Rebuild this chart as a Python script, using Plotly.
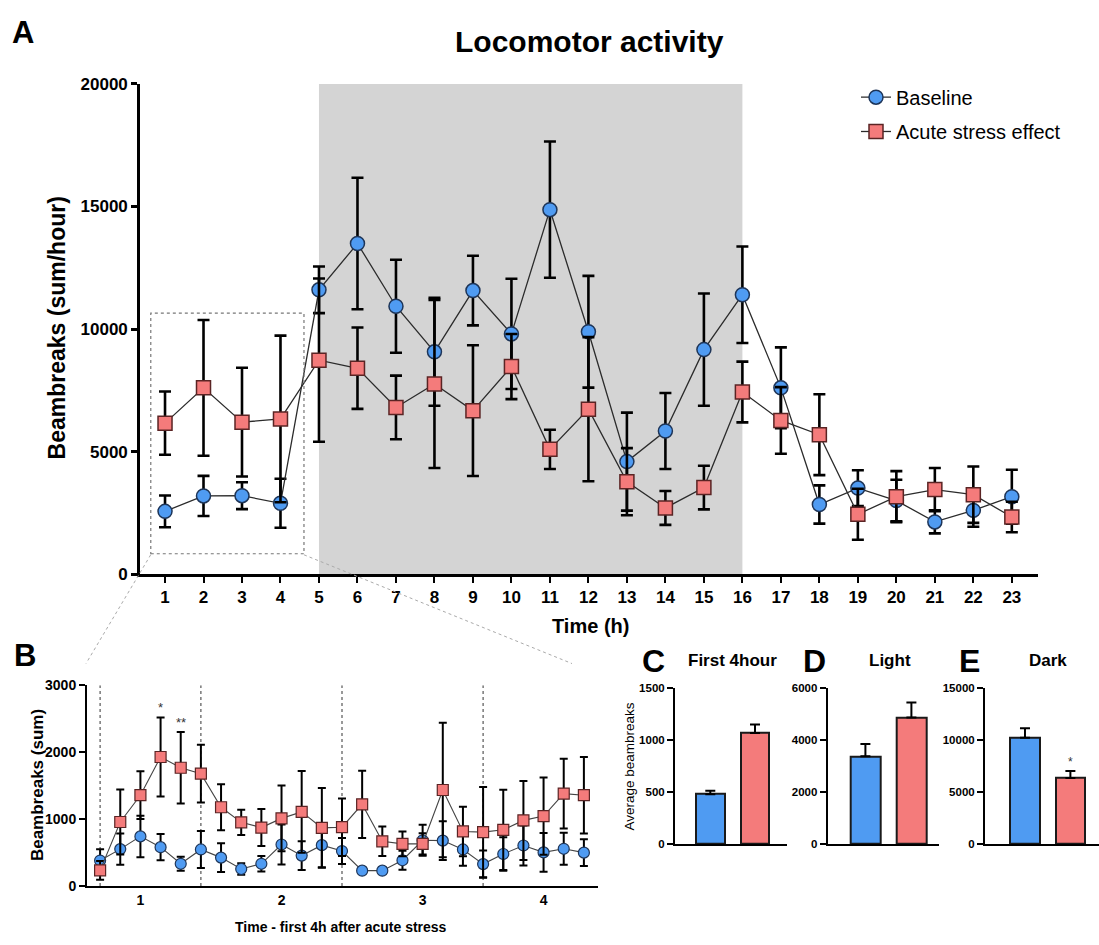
import plotly.graph_objects as go

# ---------------- data ----------------
hours = list(range(1, 24))
baseline_A = [2560, 3190, 3200, 2890, 11600, 13490, 10930, 9070, 11570, 9800, 14870, 9890,
              4590, 5840, 9160, 11400, 7600, 2840, 3510, 3000, 2130, 2600, 3160]
baseline_A_err = [650, 820, 550, 1000, 950, 2680, 1900, 2200, 1420, 2250, 2780, 2280,
                  2000, 1550, 2290, 1970, 1650, 780, 730, 850, 470, 670, 1100]
stress_A = [6160, 7600, 6200, 6330, 8730, 8400, 6800, 7760, 6670, 8470, 5090, 6730,
            3770, 2700, 3530, 7430, 6270, 5690, 2440, 3160, 3450, 3240, 2330]
stress_A_err = [1290, 2770, 2220, 3400, 3330, 1660, 1300, 3430, 2670, 1330, 800, 2940,
                1370, 690, 890, 1240, 1360, 1650, 1040, 1040, 880, 1150, 620]
dark_phase = [5, 16]
A_yticks = [0, 5000, 10000, 15000, 20000]

B_points = list(range(1, 26))
baseline_B = [380, 551, 741, 580, 332, 546, 424, 254, 332, 620, 454, 610, 522, 229, 229,
              385, 683, 678, 546, 327, 478, 605, 502, 556, 498]
baseline_B_err = [170, 235, 310, 195, 105, 276, 215, 85, 115, 300, 214, 330, 195, 50, 50,
                  141, 230, 290, 245, 205, 250, 300, 290, 240, 200]
stress_B = [234, 956, 1356, 1927, 1766, 1678, 1176, 951, 873, 1010, 1107, 868, 878, 1220,
            668, 629, 629, 1434, 815, 805, 839, 980, 1044, 1380, 1356]
stress_B_err = [140, 485, 356, 590, 535, 430, 345, 188, 276, 490, 610, 595, 430, 502, 220,
                186, 160, 1005, 370, 673, 600, 590, 576, 522, 571]
B_tickvals = [3, 10, 17, 23]
B_ticktext = ["1", "2", "3", "4"]
B_dividers = [1, 6, 13, 20]
B_yticks = [0, 1000, 2000, 3000]

bar_groups = [0, 1]  # Baseline, Acute stress effect
first4_mean = [479, 1065]
first4_err = [34, 82]
light_mean = [3368, 4861]
light_err = [478, 575]
dark_mean = [10207, 6353]
dark_err = [911, 658]

# ---------------- style ----------------
W, H = 1099, 945
FONT = "Arial, Liberation Sans, sans-serif"
BLUE = "#4F9BF2"
RED = "#F47B7B"
BLUE_EDGE = "#1E3558"
RED_EDGE = "#5A2424"


def dx(a, b):
    return [a / W, b / W]


def dy(top, bottom):
    return [1 - bottom / H, 1 - top / H]


fig = go.Figure()

# ---------------- panel A ----------------
fig.add_trace(go.Scatter(
    x=hours, y=baseline_A, mode="lines+markers", name="Baseline",
    line=dict(color="#2b2b2b", width=1.3),
    marker=dict(symbol="circle", size=14, color=BLUE, line=dict(color=BLUE_EDGE, width=1.5)),
    error_y=dict(type="data", array=baseline_A_err, color="black", thickness=2.6, width=6),
    xaxis="x", yaxis="y", legend="legend"))
fig.add_trace(go.Scatter(
    x=hours, y=stress_A, mode="lines+markers", name="Acute stress effect",
    line=dict(color="#2b2b2b", width=1.3),
    marker=dict(symbol="square", size=14, color=RED, line=dict(color=RED_EDGE, width=1.5)),
    error_y=dict(type="data", array=stress_A_err, color="black", thickness=2.6, width=6),
    xaxis="x", yaxis="y", legend="legend2"))

# ---------------- panel B ----------------
fig.add_trace(go.Scatter(
    x=B_points, y=baseline_B, mode="lines+markers", showlegend=False,
    line=dict(color="#444444", width=1.1),
    marker=dict(symbol="circle", size=11, color=BLUE, line=dict(color=BLUE_EDGE, width=1.2)),
    error_y=dict(type="data", array=baseline_B_err, color="black", thickness=2, width=4),
    xaxis="x2", yaxis="y2"))
fig.add_trace(go.Scatter(
    x=B_points, y=stress_B, mode="lines+markers", showlegend=False,
    line=dict(color="#444444", width=1.1),
    marker=dict(symbol="square", size=11, color=RED, line=dict(color=RED_EDGE, width=1.2)),
    error_y=dict(type="data", array=stress_B_err, color="black", thickness=2, width=4),
    xaxis="x2", yaxis="y2"))

# ---------------- panels C, D, E ----------------
for means, errs, xa, ya, wd in [(first4_mean, first4_err, "x3", "y3", 0.64),
                                (light_mean, light_err, "x4", "y4", 0.66),
                                (dark_mean, dark_err, "x5", "y5", 0.64)]:
    fig.add_trace(go.Bar(
        x=bar_groups, y=means, width=wd, showlegend=False,
        marker=dict(color=[BLUE, RED], line=dict(color="#1a1a1a", width=2)),
        error_y=dict(type="data", array=errs, arrayminus=[0, 0], symmetric=False,
                     color="black", thickness=2, width=5),
        xaxis=xa, yaxis=ya))

# ---------------- axes ----------------
def yax(domain, rng, tickvals, size, lw=2.5, anchor="x"):
    return dict(domain=domain, range=rng, tickvals=tickvals, tickformat="d",
                showgrid=False, zeroline=False,
                showline=True, linecolor="black", linewidth=lw, ticks="outside",
                ticklen=6, tickwidth=lw, tickcolor="black", anchor=anchor,
                tickfont=dict(family=FONT, size=size, color="black", weight="bold"))


fig.update_layout(
    width=W, height=H, margin=dict(l=0, r=0, t=0, b=0),
    plot_bgcolor="white", paper_bgcolor="white",
    bargap=0,
    xaxis=dict(domain=dx(140, 1038), range=[0.35, 23.68], tickvals=hours,
               showgrid=False, zeroline=False, showline=True, linecolor="black", linewidth=2.6,
               ticks="outside", ticklen=6, tickwidth=2.4, tickcolor="black", anchor="y",
               tickfont=dict(family=FONT, size=17, color="black", weight="bold")),
    yaxis=yax(dy(76.5, 576.7), [0, 20000], A_yticks, 17, 2.6, "x"),
    xaxis2=dict(domain=dx(87, 598), range=[0.35, 25.7], tickvals=B_tickvals, ticktext=B_ticktext,
                showgrid=False, zeroline=False, showline=True, linecolor="black", linewidth=2,
                ticks="", anchor="y2",
                tickfont=dict(family=FONT, size=14, color="black", weight="bold")),
    yaxis2=yax(dy(690, 895), [0, 3000], B_yticks, 14, 2, "x2"),
    xaxis3=dict(domain=dx(675, 786.7), range=[-0.79, 1.71], showticklabels=False, ticks="",
                showgrid=False, zeroline=False, showline=True, linecolor="black", linewidth=2,
                anchor="y3"),
    yaxis3=yax(dy(692.7, 852.3), [0, 1500], [0, 500, 1000, 1500], 11.5, 2, "x3"),
    xaxis4=dict(domain=dx(827.7, 939), range=[-0.82, 1.6], showticklabels=False, ticks="",
                showgrid=False, zeroline=False, showline=True, linecolor="black", linewidth=2,
                anchor="y4"),
    yaxis4=yax(dy(692.7, 852.3), [0, 6000], [0, 2000, 4000, 6000], 11.5, 2, "x4"),
    xaxis5=dict(domain=dx(985, 1099), range=[-0.88, 1.63], showticklabels=False, ticks="",
                showgrid=False, zeroline=False, showline=True, linecolor="black", linewidth=2,
                anchor="y5"),
    yaxis5=yax(dy(692.7, 852.3), [0, 15000], [0, 5000, 10000, 15000], 11.5, 2, "x5"),
    legend=dict(x=856 / W, xanchor="left", y=1 - 90 / H, yanchor="middle",
                bgcolor="rgba(0,0,0,0)", font=dict(family=FONT, size=20, color="black")),
    legend2=dict(x=856 / W, xanchor="left", y=1 - 125 / H, yanchor="middle",
                 bgcolor="rgba(0,0,0,0)", font=dict(family=FONT, size=20, color="black")),
)

# ---------------- shapes ----------------
shapes = [
    dict(type="rect", xref="x", yref="y", x0=dark_phase[0], x1=dark_phase[1], y0=0, y1=20000,
         fillcolor="#d4d4d4", line=dict(width=0), layer="below"),
    dict(type="rect", xref="x", yref="y", x0=0.63, x1=4.61, y0=830, y1=10650,
         line=dict(color="#777777", width=1.2, dash="dot"), fillcolor="rgba(0,0,0,0)"),
    dict(type="line", xref="paper", yref="paper", x0=150.7 / W, y0=1 - 557 / H,
         x1=86 / W, y1=1 - 668 / H, line=dict(color="#aaaaaa", width=1, dash="dot")),
    dict(type="line", xref="paper", yref="paper", x0=304 / W, y0=1 - 557 / H,
         x1=572 / W, y1=1 - 668 / H, line=dict(color="#aaaaaa", width=1, dash="dot")),
]
for xv in B_dividers:
    shapes.append(dict(type="line", xref="x2", yref="y2", x0=xv, x1=xv, y0=0, y1=3000,
                       line=dict(color="#555555", width=1.2, dash="dot"), layer="below"))
fig.update_layout(shapes=shapes)

# ---------------- text ----------------
def txt(x, y, s, size, bold=True, angle=0):
    return dict(x=x / W, y=1 - y / H, xref="paper", yref="paper", text=s, showarrow=False,
                xanchor="center", yanchor="middle", textangle=angle,
                font=dict(family=FONT, size=size, color="black",
                          weight="bold" if bold else "normal"))


ann = [
    txt(23, 24, "A", 31),
    txt(589, 33, "Locomotor activity", 30),
    txt(57, 326, "Beambreaks (sum/hour)", 23, angle=-90),
    txt(590, 630, "Time (h)", 20),
    txt(25, 660, "B", 31),
    txt(37, 792, "Beambreaks (sum)", 17, angle=-90),
    txt(341, 937, "Time - first 4h after acute stress", 14),
    txt(653, 665, "C", 32),
    txt(733, 665, "First 4hour", 17),
    txt(814, 665, "D", 32),
    txt(890, 665, "Light", 17),
    txt(970, 665, "E", 32),
    txt(1048, 665, "Dark", 17),
    txt(629, 773, "Average beambreaks", 13.5, bold=False, angle=-90),
]
# significance marks
ann.append(dict(x=B_points[3], y=stress_B[3] + stress_B_err[3], xref="x2", yref="y2", text="*",
                showarrow=False, yanchor="bottom", font=dict(family=FONT, size=13, color="#333")))
ann.append(dict(x=B_points[4], y=stress_B[4] + stress_B_err[4], xref="x2", yref="y2", text="**",
                showarrow=False, yanchor="bottom", font=dict(family=FONT, size=13, color="#333")))
ann.append(dict(x=bar_groups[1], y=dark_mean[1] + dark_err[1], xref="x5", yref="y5", text="*",
                showarrow=False, yanchor="bottom", font=dict(family=FONT, size=12, color="#333")))
fig.update_layout(annotations=ann)

fig.write_html("out.html")
